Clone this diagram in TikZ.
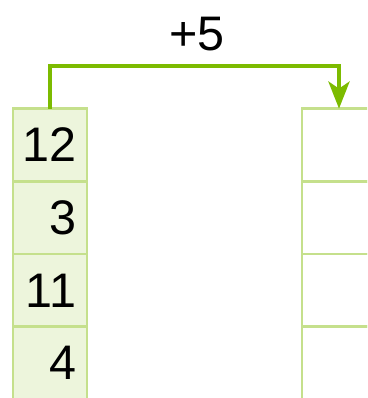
\documentclass[tikz,border=0pt]{standalone}
\usepackage{fontspec}
\setmainfont{Liberation Sans}
\usetikzlibrary{arrows.meta}
\definecolor{cellfill}{RGB}{237,245,220}
\definecolor{cellline}{RGB}{197,224,140}
\definecolor{arrowgreen}{RGB}{124,187,0}
\begin{document}
\begin{tikzpicture}[x=1pt,y=-1pt,
  cellbox/.style={draw=cellline,line width=2.6pt,minimum width=74pt,minimum height=72.7pt,
    inner sep=0pt,outer sep=0pt},
  srccell/.style={cellbox,fill=cellfill},
  dstcell/.style={cellbox,fill=white},
  numtext/.style={anchor=east,inner sep=0pt,font=\fontsize{48.5}{52}\selectfont},
  shiftarrow/.style={draw=arrowgreen,line width=4.5pt,-{Stealth[length=27pt,width=21pt,inset=7pt]}}]
\useasboundingbox (0,0) rectangle (367,398);
\clip (0,0) rectangle (367,398);
\fill[white] (0,0) rectangle (367,398);
% source column
\node[srccell] (s1) at (50,145) {};
\node[srccell] (s2) at (50,217.7) {};
\node[srccell] (s3) at (50,290.4) {};
\node[srccell] (s4) at (50,363.1) {};
\node[numtext] (t1) at ([xshift=-10.5pt]s1.east) {12};
\node[numtext] (t2) at ([xshift=-10.5pt]s2.east) {3};
\node[numtext] (t3) at ([xshift=-10.5pt]s3.east) {11};
\node[numtext] (t4) at ([xshift=-10.5pt]s4.east) {4};
% destination column
\node[dstcell] (d1) at (339,145) {};
\node[dstcell] (d2) at (339,217.7) {};
\node[dstcell] (d3) at (339,290.4) {};
\node[dstcell] (d4) at (339,363.1) {};
% arrow
\coordinate (top) at (0,66);
\draw[shiftarrow] (s1.north) -- (s1.north |- top) -- (d1.north |- top) -- (d1.north);
\node[font=\fontsize{48.5}{52}\selectfont,inner sep=0pt] (lbl) at (197,34.2) {+5};
\end{tikzpicture}
\end{document}
